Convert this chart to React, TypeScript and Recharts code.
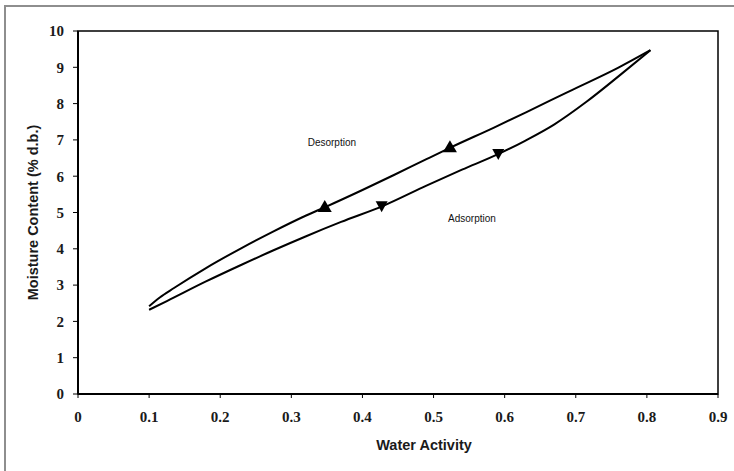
import React from "react";
import { ComposedChart, Line, XAxis, YAxis, ReferenceArea, ReferenceDot } from "recharts";

// water activity vs moisture content (% d.b.)
const desorptionAw = [0.1, 0.115, 0.135, 0.18, 0.23, 0.275, 0.32, 0.35, 0.4, 0.445, 0.49, 0.525, 0.585, 0.63, 0.69, 0.76, 0.805];
const desorptionMc = [2.42, 2.66, 2.92, 3.47, 4.02, 4.48, 4.91, 5.17, 5.62, 6.04, 6.47, 6.8, 7.34, 7.76, 8.33, 8.99, 9.47];

const adsorptionAw = [0.1, 0.125, 0.18, 0.23, 0.275, 0.32, 0.37, 0.43, 0.49, 0.54, 0.59, 0.63, 0.67, 0.715, 0.76, 0.805];
const adsorptionMc = [2.32, 2.56, 3.1, 3.56, 3.96, 4.34, 4.74, 5.19, 5.74, 6.18, 6.6, 6.99, 7.43, 8.05, 8.75, 9.47];

// arrow markers sitting on each branch
const desorptionArrowAw = [0.347, 0.523];
const desorptionArrowMc = [5.15, 6.8];
const adsorptionArrowAw = [0.427, 0.591];
const adsorptionArrowMc = [5.17, 6.61];

const xTicks = [0, 0.1, 0.2, 0.3, 0.4, 0.5, 0.6, 0.7, 0.8, 0.9];
const yTicks = [0, 1, 2, 3, 4, 5, 6, 7, 8, 9, 10];

const zip = (xs: number[], ys: number[]) => xs.map((x, i) => ({ x, y: ys[i] }));

const desorption = zip(desorptionAw, desorptionMc);
const adsorption = zip(adsorptionAw, adsorptionMc);
const desorptionArrows = zip(desorptionArrowAw, desorptionArrowMc);
const adsorptionArrows = zip(adsorptionArrowAw, adsorptionArrowMc);

const tickStyle = { fontFamily: "'Liberation Serif', serif", fontWeight: 700, fontSize: 15, fill: "#1a1a1a" };
const titleFont = "'Liberation Sans', Arial, sans-serif";

function UpArrow(props: any) {
  const { cx, cy } = props;
  if (cx == null || cy == null) return null;
  return <path d={`M${cx},${cy - 7} L${cx + 7},${cy + 5} L${cx - 7},${cy + 5} Z`} fill="#000" />;
}

function DownArrow(props: any) {
  const { cx, cy } = props;
  if (cx == null || cy == null) return null;
  return <path d={`M${cx - 6},${cy - 5} L${cx + 6},${cy - 5} L${cx},${cy + 6} Z`} fill="#000" />;
}

export default function App() {
  return (
    <div style={{ position: "absolute", left: 0, top: 0, width: 734, height: 471, background: "#fff", overflow: "hidden" }}>
      <div
        style={{
          position: "absolute",
          left: 4,
          top: 5,
          width: 760,
          height: 500,
          borderLeft: "2px solid #8e8e8e",
          borderTop: "2px solid #8e8e8e",
        }}
      />
      <div style={{ position: "absolute", left: 0, top: 0 }}>
        <ComposedChart width={734} height={471} margin={{ top: 31, right: 16, bottom: 0, left: 0 }}>
          <XAxis
            type="number"
            dataKey="x"
            domain={[0, 0.9]}
            ticks={xTicks}
            allowDataOverflow
            height={77}
            tick={tickStyle}
            tickFormatter={(v: number) => (v === 0 ? "0" : v.toFixed(1))}
            tickSize={4}
            tickMargin={13}
            axisLine={{ stroke: "#000", strokeWidth: 2 }}
            tickLine={{ stroke: "#000" }}
            label={{
              content: ({ viewBox }: any) => (
                <text
                  x={viewBox.x + viewBox.width / 2 + 26}
                  y={viewBox.y + 51}
                  textAnchor="middle"
                  dominantBaseline="central"
                  fontFamily={titleFont}
                  fontWeight={700}
                  fontSize={14.5}
                  fill="#1a1a1a"
                >
                  Water Activity
                </text>
              ),
            }}
          />
          <YAxis
            type="number"
            dataKey="y"
            domain={[0, 10]}
            ticks={yTicks}
            allowDataOverflow
            width={78}
            tick={tickStyle}
            tickSize={5}
            tickMargin={9}
            axisLine={{ stroke: "#000", strokeWidth: 2 }}
            tickLine={{ stroke: "#000" }}
            label={{
              content: ({ viewBox }: any) => {
                const cx = viewBox.x + 33;
                const cy = viewBox.y + viewBox.height / 2;
                return (
                  <text
                    x={cx}
                    y={cy}
                    transform={`rotate(-90 ${cx} ${cy})`}
                    textAnchor="middle"
                    dominantBaseline="central"
                    fontFamily={titleFont}
                    fontWeight={700}
                    fontSize={14.5}
                    fill="#1a1a1a"
                  >
                    Moisture Content (% d.b.)
                  </text>
                );
              },
            }}
          />
          <ReferenceArea x1={0} x2={0.9} y1={0} y2={10} fill="none" stroke="#000" strokeWidth={1.5} fillOpacity={0} />
          <Line
            data={desorption}
            dataKey="y"
            type="monotone"
            stroke="#000"
            strokeWidth={2}
            dot={false}
            activeDot={false}
            isAnimationActive={false}
          />
          <Line
            data={adsorption}
            dataKey="y"
            type="monotone"
            stroke="#000"
            strokeWidth={2}
            dot={false}
            activeDot={false}
            isAnimationActive={false}
          />
          <Line
            data={desorptionArrows}
            dataKey="y"
            stroke="none"
            dot={<UpArrow />}
            activeDot={false}
            isAnimationActive={false}
          />
          <Line
            data={adsorptionArrows}
            dataKey="y"
            stroke="none"
            dot={<DownArrow />}
            activeDot={false}
            isAnimationActive={false}
          />
          <ReferenceDot
            x={0.357}
            y={6.93}
            r={0}
            fill="none"
            stroke="none"
            label={{ value: "Desorption", position: "center", fontSize: 10, fill: "#111", fontFamily: titleFont }}
          />
          <ReferenceDot
            x={0.554}
            y={4.84}
            r={0}
            fill="none"
            stroke="none"
            label={{ value: "Adsorption", position: "center", fontSize: 10, fill: "#111", fontFamily: titleFont }}
          />
        </ComposedChart>
      </div>
    </div>
  );
}
